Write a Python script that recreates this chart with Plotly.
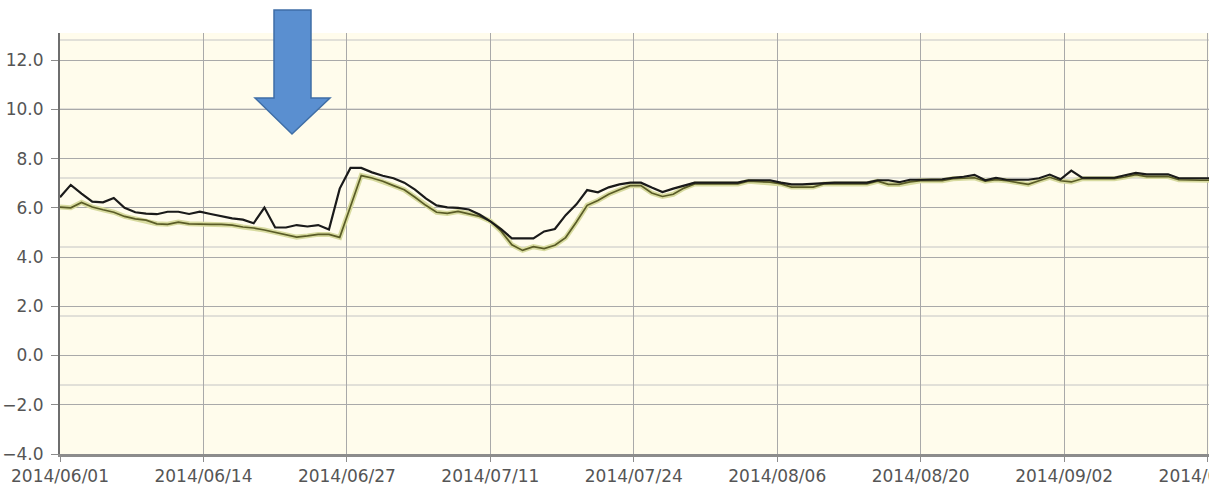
import pandas as pd
import plotly.graph_objects as go

# ---- data ----
start_date = "2014-06-01"

series_black = [
    6.43, 6.93, 6.58, 6.25, 6.22, 6.40, 6.00, 5.82, 5.76, 5.74,
    5.84, 5.84, 5.75, 5.84, 5.75, 5.65, 5.57, 5.52, 5.37, 6.01,
    5.20, 5.20, 5.30, 5.24, 5.30, 5.12, 6.78, 7.62, 7.62, 7.44,
    7.30, 7.20, 7.02, 6.74, 6.38, 6.10, 6.02, 6.00, 5.93, 5.73,
    5.45, 5.13, 4.76, 4.76, 4.76, 5.04, 5.14, 5.70, 6.14, 6.72,
    6.63, 6.83, 6.95, 7.02, 7.02, 6.82, 6.64, 6.78, 6.90, 7.02,
    7.02, 7.02, 7.02, 7.02, 7.12, 7.12, 7.12, 7.02, 6.95, 6.95,
    6.98, 7.02, 7.02, 7.02, 7.02, 7.02, 7.12, 7.12, 7.04, 7.14,
    7.14, 7.14, 7.16, 7.22, 7.26, 7.34, 7.12, 7.22, 7.14, 7.14,
    7.14, 7.20, 7.35, 7.16, 7.51, 7.22, 7.22, 7.22, 7.22, 7.32,
    7.42, 7.36, 7.36, 7.36, 7.20, 7.20, 7.20, 7.20,
]

series_olive = [
    6.03, 6.00, 6.22, 6.03, 5.92, 5.82, 5.65, 5.55, 5.50, 5.35,
    5.33, 5.42, 5.35, 5.33, 5.33, 5.33, 5.30, 5.22, 5.18, 5.10,
    5.00, 4.88, 4.81, 4.86, 4.92, 4.92, 4.80, 6.05, 7.31, 7.21,
    7.08, 6.90, 6.73, 6.43, 6.10, 5.82, 5.77, 5.85, 5.76, 5.65,
    5.46, 5.05, 4.50, 4.27, 4.42, 4.34, 4.48, 4.79, 5.42, 6.10,
    6.30, 6.55, 6.73, 6.90, 6.90, 6.60, 6.46, 6.55, 6.80, 6.97,
    6.97, 6.97, 6.97, 6.97, 7.08, 7.05, 7.04, 6.97, 6.84, 6.84,
    6.84, 6.97, 6.97, 6.97, 6.97, 6.97, 7.08, 6.95, 6.95, 7.05,
    7.10, 7.10, 7.10, 7.18, 7.20, 7.22, 7.08, 7.14, 7.10, 7.04,
    6.95, 7.10, 7.24, 7.10, 7.05, 7.18, 7.18, 7.18, 7.18, 7.25,
    7.35, 7.27, 7.27, 7.27, 7.14, 7.12, 7.12, 7.12,
]

dates = pd.date_range(start_date, periods=len(series_black), freq="D")

# ---- layout constants ----
W, H = 1209, 484
ML, MR, MT, MB = 60, 0, 33, 30
PW, PH = W - ML - MR, H - MT - MB


def px_x(px):
    return (px - ML) / PW


def px_y(py):
    return (H - MB - py) / PH


fig = go.Figure()
fig.add_trace(go.Scatter(x=dates, y=series_olive, mode="lines",
                         line=dict(color="#d8dba0", width=5),
                         hoverinfo="skip", showlegend=False))
fig.add_trace(go.Scatter(x=dates, y=series_olive, mode="lines",
                         line=dict(color="#5a5c26", width=1.7),
                         showlegend=False))
fig.add_trace(go.Scatter(x=dates, y=series_black, mode="lines",
                         line=dict(color="#1a1a1a", width=2.2),
                         showlegend=False))

shapes = []
# secondary (right-axis) horizontal grid lines
for k in range(1, 7):
    yy = k * 69 / PH
    shapes.append(dict(type="line", xref="paper", yref="paper",
                       x0=0, x1=1, y0=yy, y1=yy, layer="below",
                       line=dict(color="#c4c4c4", width=1)))

# blue arrow annotation
arrow_pts = [(274, 10), (311, 10), (311, 98), (330, 98), (292, 134),
             (255, 98), (274, 98)]
path = "M " + " L ".join(f"{px_x(a):.5f},{px_y(b):.5f}" for a, b in arrow_pts) + " Z"
shapes.append(dict(type="path", xref="paper", yref="paper", path=path,
                   fillcolor="#5a8fd0", line=dict(color="#3f6ea6", width=1.5),
                   layer="above"))

range_end = pd.Timestamp(start_date) + pd.Timedelta(days=106.8)

fig.update_layout(
    width=W, height=H,
    margin=dict(l=ML, r=MR, t=MT, b=MB, pad=0, autoexpand=False),
    paper_bgcolor="white",
    plot_bgcolor="#fffcec",
    font=dict(family="DejaVu Sans", size=17, color="#555555"),
    showlegend=False,
    shapes=shapes,
    xaxis=dict(
        type="date",
        automargin=False,
        range=[pd.Timestamp(start_date), range_end],
        tick0=start_date,
        dtick=1152000000,
        tickformat="%Y/%m/%d",
        showgrid=True, gridcolor="#a9a9a9", gridwidth=1,
        ticks="outside", ticklen=5, tickcolor="#8c8c8c", tickwidth=1,
        showline=True, linecolor="#8c8c8c", linewidth=3,
        zeroline=False,
        ticklabelstandoff=0,
        ticklabeloverflow="allow",
        tickfont=dict(size=17, color="#555555"),
    ),
    yaxis=dict(
        automargin=False,
        range=[-4, 13.1],
        tick0=-4, dtick=2,
        tickformat=".1f",
        showgrid=True, gridcolor="#a9a9a9", gridwidth=1,
        ticks="outside", ticklen=7, tickcolor="#8c8c8c", tickwidth=1,
        showline=True, linecolor="#6e6e6e", linewidth=2,
        zeroline=False,
        ticklabelstandoff=4,
        tickfont=dict(size=17, color="#555555"),
    ),
)

fig.write_html(
    "out.html",
    config={"displayModeBar": False},
    post_script="document.body.style.margin='0';document.body.style.overflow='hidden';",
)
